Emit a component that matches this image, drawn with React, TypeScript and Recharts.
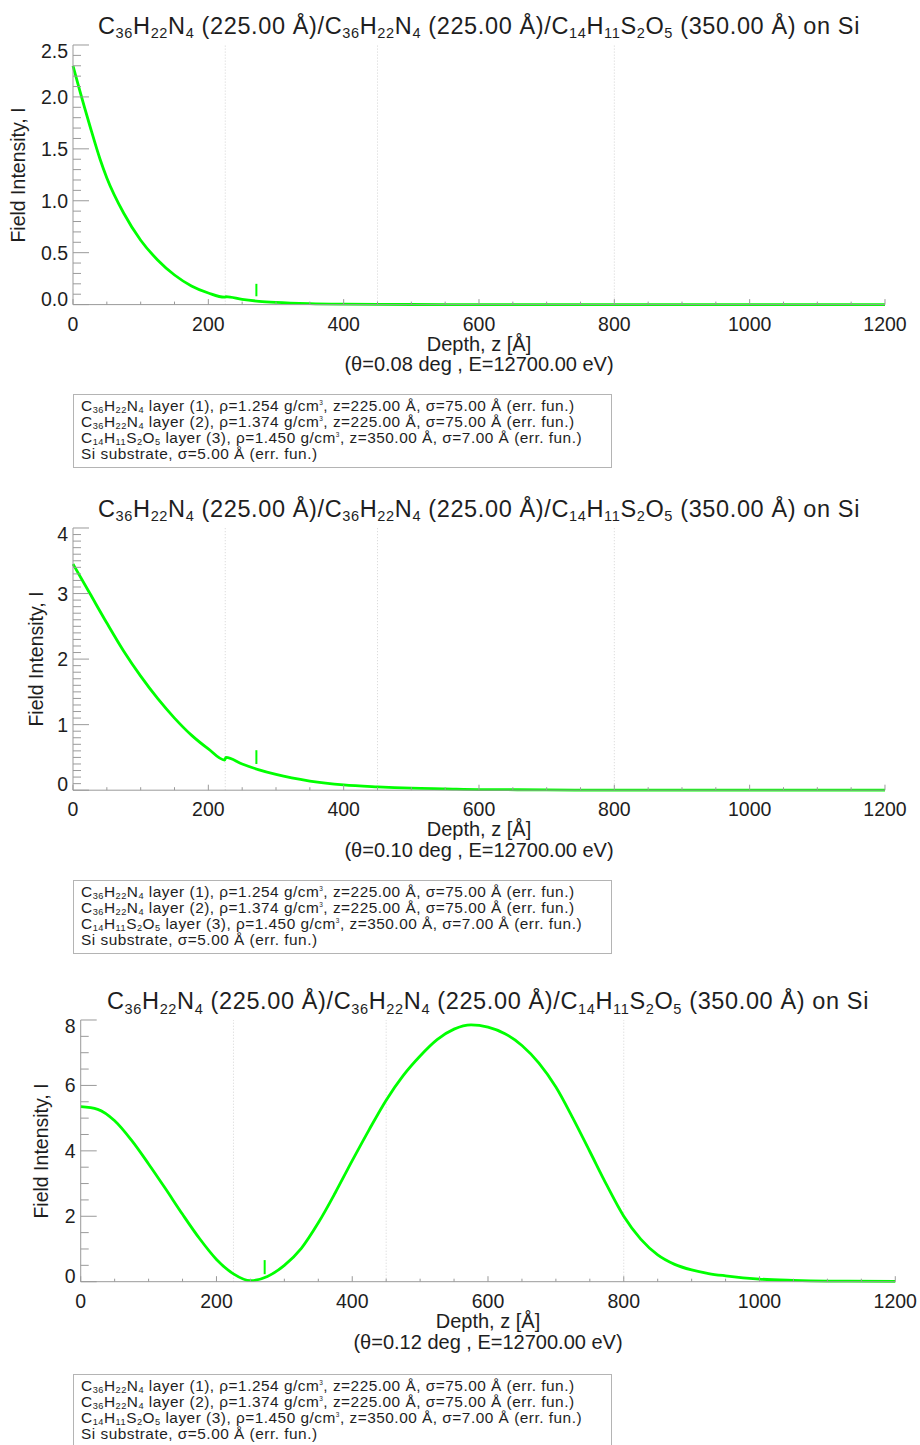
import React from "react";
import { LineChart, Line, XAxis, YAxis, ReferenceLine } from "recharts";

const FONT = "'Liberation Sans', Arial, Helvetica, sans-serif";
const GREEN = "#00ff00";
const FRAME = "#9a9a9a";
const INK = "#1e1e1e";

// layer stack, shared by all three panels
const layerFormulas = ["C36H22N4", "C36H22N4", "C14H11S2O5"];
const layerDensities = ["1.254", "1.374", "1.450"];
const layerThicknesses = ["225.00", "225.00", "350.00"];
const layerSigmas = ["75.00", "75.00", "7.00"];
const substrateSigma = "5.00";
const energy = "12700.00";
const angles = ["0.08", "0.10", "0.12"];

// depth axis (Å)
const depthMajor = [0, 200, 400, 600, 800, 1000, 1200];
const depthStep = 50;
const interfaces = [225, 450, 800];
const markerDepth = 271;

// theta = 0.08 deg
const depth1 = [0, 10, 25, 40, 50, 75, 100, 125, 150, 175, 200, 224, 226, 250, 275, 300, 350, 400, 450, 500, 600, 800, 1000, 1200];
const field1 = [2.3, 2.06, 1.72, 1.4, 1.22, 0.88, 0.62, 0.43, 0.285, 0.18, 0.112, 0.071, 0.077, 0.05, 0.032, 0.021, 0.009, 0.004, 0.002, 0.001, 0, 0, 0, 0];
const yMajor1 = [0, 0.5, 1, 1.5, 2, 2.5];
const yLabels1 = ["0.0", "0.5", "1.0", "1.5", "2.0", "2.5"];
const marker1 = [0.08, 0.2];

// theta = 0.10 deg
const depth2 = [0, 25, 50, 75, 100, 125, 150, 175, 200, 224, 226, 250, 275, 300, 350, 400, 450, 500, 550, 600, 700, 800, 1000, 1200];
const field2 = [3.45, 3.0, 2.55, 2.12, 1.74, 1.4, 1.1, 0.84, 0.63, 0.46, 0.5, 0.4, 0.31, 0.24, 0.14, 0.08, 0.05, 0.03, 0.02, 0.01, 0.005, 0, 0, 0];
const yMajor2 = [0, 1, 2, 3, 4];
const yLabels2 = ["0", "1", "2", "3", "4"];
const marker2 = [0.4, 0.61];

// theta = 0.12 deg
const depth3 = [0, 25, 50, 75, 100, 125, 150, 175, 200, 225, 250, 275, 300, 325, 350, 375, 400, 425, 450, 475, 500, 525, 550, 575, 600, 625, 650, 675, 700, 725, 750, 775, 800, 825, 850, 875, 900, 925, 950, 1000, 1050, 1100, 1200];
const field3 = [5.35, 5.27, 4.92, 4.32, 3.6, 2.84, 2.06, 1.32, 0.68, 0.24, 0.03, 0.16, 0.5, 1.02, 1.8, 2.72, 3.7, 4.65, 5.55, 6.3, 6.9, 7.4, 7.72, 7.85, 7.78, 7.58, 7.22, 6.68, 5.95, 5.0, 3.98, 2.95, 2.0, 1.3, 0.82, 0.53, 0.36, 0.25, 0.18, 0.08, 0.04, 0.02, 0.01];
const yMajor3 = [0, 2, 4, 6, 8];
const yLabels3 = ["0", "2", "4", "6", "8"];
const marker3 = [0.23, 0.66];

const steps = (max: number, step: number) =>
  Array.from({ length: Math.round(max / step) + 1 }, (_, i) => +(i * step).toFixed(4));

const majorIndex = (majors: number[], v: number) =>
  majors.findIndex((m) => Math.abs(m - v) < 1e-6);

const textStyle = { fontFamily: FONT, fontSize: 19.5, fill: INK };

// IDL-style ticks: all pointing into the plot box
const leftTick = (majors: number[], labels: string[]) => (props: any) => {
  const { x, y, payload } = props;
  const idx = majorIndex(majors, payload.value);
  const len = idx >= 0 ? 16 : 8;
  const shift = idx === 0 ? -6 : idx === majors.length - 1 ? 6 : 0;
  return (
    <g>
      <line x1={x} x2={x + len} y1={y} y2={y} stroke={FRAME} />
      {idx >= 0 && (
        <text x={x - 5} y={y + shift} textAnchor="end" dominantBaseline="central" {...textStyle}>
          {labels[idx]}
        </text>
      )}
    </g>
  );
};

const rightTick = (majors: number[]) => (props: any) => {
  const { x, y, payload } = props;
  const len = majorIndex(majors, payload.value) >= 0 ? 16 : 8;
  return <line x1={x - len} x2={x} y1={y} y2={y} stroke={FRAME} />;
};

const bottomTick = (props: any) => {
  const { x, y, payload } = props;
  const major = majorIndex(depthMajor, payload.value) >= 0;
  return (
    <g>
      <line x1={x} x2={x} y1={y} y2={y - (major ? 5.5 : 3)} stroke={FRAME} />
      {major && (
        <text x={x} y={y + 19} textAnchor="middle" dominantBaseline="central" {...textStyle}>
          {payload.value}
        </text>
      )}
    </g>
  );
};

const topTick = (props: any) => {
  const { x, y, payload } = props;
  const major = majorIndex(depthMajor, payload.value) >= 0;
  return <line x1={x} x2={x} y1={y} y2={y + (major ? 5.5 : 3)} stroke={FRAME} />;
};

// "C36H22N4" -> C<sub>36</sub>H<sub>22</sub>N<sub>4</sub>
function Chem({ f, sub = 0.62, drop = 0.32 }: { f: string; sub?: number; drop?: number }) {
  const parts = [...f.matchAll(/([A-Z][a-z]?)(\d*)/g)];
  return (
    <>
      {parts.map((m, i) => (
        <React.Fragment key={i}>
          {m[1]}
          {m[2] && (
            <span style={{ fontSize: `${sub}em`, position: "relative", top: `${drop}em`, lineHeight: 0 }}>
              {m[2]}
            </span>
          )}
        </React.Fragment>
      ))}
    </>
  );
}

function Title() {
  return (
    <>
      {layerFormulas.map((f, i) => (
        <React.Fragment key={i}>
          {i > 0 && "/"}
          <Chem f={f} /> ({layerThicknesses[i]} Å)
        </React.Fragment>
      ))}{" "}
      on Si
    </>
  );
}

function LegendBox({ top }: { top: number }) {
  return (
    <div
      style={{
        position: "absolute",
        left: 73,
        top,
        width: 539,
        height: 74,
        boxSizing: "border-box",
        border: "1px solid #b4b4b4",
        padding: "3px 0 0 7px",
        fontSize: 15.4,
        letterSpacing: 0.5,
        lineHeight: "16px",
        whiteSpace: "nowrap",
        background: "#fff",
      }}
    >
      {layerFormulas.map((f, i) => (
        <div key={i}>
          <Chem f={f} sub={0.6} drop={0.2} /> layer ({i + 1}), ρ={layerDensities[i]} g/cm
          <span style={{ fontSize: "0.42em", position: "relative", top: "-0.95em", lineHeight: 0 }}>3</span>, z=
          {layerThicknesses[i]} Å, σ={layerSigmas[i]} Å (err. fun.)
        </div>
      ))}
      <div>Si substrate, σ={substrateSigma} Å (err. fun.)</div>
    </div>
  );
}

type Box = { left: number; right: number; top: number; bottom: number; yLabelX: number; legendGap: number };

const boxes: Box[] = [
  { left: 73, right: 885, top: 44.7, bottom: 304.3, yLabelX: 18.5, legendGap: 90 },
  { left: 73, right: 885, top: 527.5, bottom: 789.7, yLabelX: 36.5, legendGap: 90 },
  { left: 80.7, right: 895.3, top: 1020, bottom: 1281.7, yLabelX: 41.5, legendGap: 92 },
];

const panels = [
  { depth: depth1, field: field1, yMajor: yMajor1, yLabels: yLabels1, yStep: 0.1, marker: marker1 },
  { depth: depth2, field: field2, yMajor: yMajor2, yLabels: yLabels2, yStep: 0.1, marker: marker2 },
  { depth: depth3, field: field3, yMajor: yMajor3, yLabels: yLabels3, yStep: 0.5, marker: marker3 },
];

function Panel({ k }: { k: number }) {
  const box = boxes[k];
  const p = panels[k];
  const yMax = p.yMajor[p.yMajor.length - 1];
  const data = p.depth.map((z, i) => ({ z, I: p.field[i] }));
  const xTicks = steps(1200, depthStep);
  const yTicks = steps(yMax, p.yStep);
  const chartTop = box.top - 10;
  const chartH = box.bottom - box.top + 10 + 40;
  const cx = (box.left + box.right) / 2;
  const cy = (box.top + box.bottom) / 2;
  const center = { position: "absolute" as const, whiteSpace: "nowrap" as const, lineHeight: 1 };

  return (
    <>
      <div
        style={{
          ...center,
          left: cx,
          top: box.top - 18,
          transform: "translate(-50%, -50%)",
          fontSize: 23.5,
          letterSpacing: 0.62,
        }}
      >
        <Title />
      </div>
      <div style={{ position: "absolute", left: 0, top: chartTop }}>
        <LineChart
          width={920}
          height={chartH}
          data={data}
          margin={{ top: 10, right: 920 - box.right, bottom: 10, left: 0 }}
        >
          <XAxis
            dataKey="z"
            type="number"
            domain={[0, 1200]}
            ticks={xTicks}
            interval={0}
            height={30}
            tickSize={0}
            tickMargin={0}
            tickLine={false}
            axisLine={{ stroke: FRAME }}
            tick={bottomTick}
          />
          <XAxis
            xAxisId="top"
            orientation="top"
            type="number"
            domain={[0, 1200]}
            ticks={xTicks}
            interval={0}
            height={0}
            tickSize={0}
            tickMargin={0}
            tickLine={false}
            axisLine={{ stroke: FRAME }}
            tick={topTick}
          />
          <YAxis
            type="number"
            domain={[0, yMax]}
            ticks={yTicks}
            interval={0}
            width={box.left}
            tickSize={0}
            tickMargin={0}
            tickLine={false}
            axisLine={{ stroke: FRAME }}
            tick={leftTick(p.yMajor, p.yLabels)}
          />
          <YAxis
            yAxisId="right"
            orientation="right"
            type="number"
            domain={[0, yMax]}
            ticks={yTicks}
            interval={0}
            width={0}
            tickSize={0}
            tickMargin={0}
            tickLine={false}
            axisLine={{ stroke: FRAME }}
            tick={rightTick(p.yMajor)}
          />
          {interfaces.map((x) => (
            <ReferenceLine key={x} x={x} stroke="#d4d4d4" strokeDasharray="1 2" />
          ))}
          <Line
            type="monotone"
            dataKey="I"
            stroke={GREEN}
            strokeWidth={2.8}
            dot={false}
            isAnimationActive={false}
          />
          <ReferenceLine
            segment={[
              { x: markerDepth, y: p.marker[0] },
              { x: markerDepth, y: p.marker[1] },
            ]}
            stroke={GREEN}
            strokeWidth={2}
          />
        </LineChart>
      </div>
      <div
        style={{
          ...center,
          left: box.yLabelX,
          top: cy,
          transform: "translate(-50%, -50%) rotate(-90deg)",
          fontSize: 19.5,
        }}
      >
        Field Intensity, I
      </div>
      <div style={{ ...center, left: cx, top: box.bottom + 39.5, transform: "translate(-50%, -50%)", fontSize: 20 }}>
        Depth, z [Å]
      </div>
      <div style={{ ...center, left: cx, top: box.bottom + 60, transform: "translate(-50%, -50%)", fontSize: 20 }}>
        (θ={angles[k]} deg , E={energy} eV)
      </div>
      <LegendBox top={box.bottom + box.legendGap} />
    </>
  );
}

export default function App() {
  return (
    <div
      style={{
        position: "absolute",
        left: 0,
        top: 0,
        width: 920,
        height: 1445,
        overflow: "hidden",
        background: "#fff",
        fontFamily: FONT,
        color: INK,
      }}
    >
      {boxes.map((_, k) => (
        <Panel key={k} k={k} />
      ))}
    </div>
  );
}
